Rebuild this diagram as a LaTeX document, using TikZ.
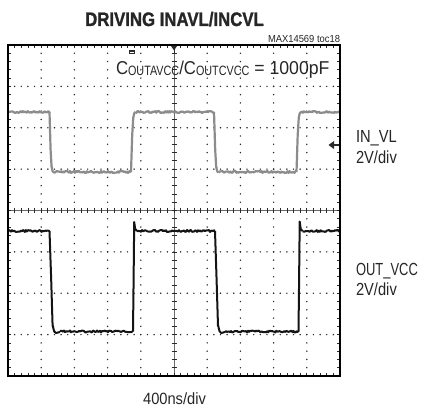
\documentclass[tikz,border=0pt]{standalone}
\usepackage{fontspec}
\setmainfont{Liberation Sans}
\newfontfamily\heavyfont[FakeBold=1.3]{Liberation Sans}
\definecolor{gridc}{HTML}{2A2A2A}
\definecolor{trgray}{HTML}{8C8C8C}
\definecolor{trblack}{HTML}{141414}
\newcommand{\fs}[1]{\fontsize{#1}{#1}\selectfont}
\begin{document}
\begin{tikzpicture}[x=1pt,y=-1pt,
  lbl/.style={inner sep=0pt, outer sep=0pt, text=black!85},
  dotm/.style={fill=gridc},
  tick/.style={draw=gridc, line width=0.7pt},
  graytr/.style={draw=trgray, line width=2.2pt, line join=round},
  blacktr/.style={draw=trblack, line width=2.0pt, line join=round}]
\useasboundingbox (0,0) rectangle (426,409);
\fill[white] (0,0) rectangle (426,409);
\pgfmathsetseed{11}
% ---------- grid dots ----------
\foreach \k in {1,2,3,5,6,7}{
  \foreach \i in {1,...,49}{
    \fill[dotm] ({8+\i*6.64},{45+\k*41.375}) circle (0.8);
  }
}
\foreach \c in {1,2,3,4,6,7,8,9}{
  \foreach \j in {1,...,39}{
    \fill[dotm] ({8+\c*33.2},{45+\j*8.275}) circle (0.8);
  }
}
% ---------- center axes ----------
\draw[draw=gridc!70, line width=0.6pt] (8,210.5) -- (340,210.5);
\draw[draw=gridc!70, line width=0.6pt] (174,45) -- (174,376);
\foreach \i in {1,...,49}{
  \draw[tick] ({8+\i*6.64},208) -- ++(0,5);
  \draw[tick] ({8+\i*6.64},45) -- ++(0,3);
  \draw[tick] ({8+\i*6.64},376) -- ++(0,-3);
}
\foreach \j in {1,...,39}{
  \draw[tick] (171.5,{45+\j*8.275}) -- ++(5,0);
  \draw[tick] (8,{45+\j*8.275}) -- ++(3,0);
  \draw[tick] (340,{45+\j*8.275}) -- ++(-3,0);
}
% ---------- IN_VL trace (gray) ----------
\draw[graytr] plot[domain=9:49.5, samples=42] (\x,{112+1.0*rand});
\draw[graytr] (49.5,112) -- (50.6,150) -- (51.6,167) to[out=80,in=180] (54,172.5);
\draw[graytr] plot[domain=54:131, samples=78] (\x,{172+1.0*rand});
\draw[graytr] (131,172) -- (132.2,135) -- (133.3,117) to[out=-80,in=180] (135.5,112);
\draw[graytr] plot[domain=135.5:214, samples=80] (\x,{112+1.0*rand});
\draw[graytr] (214,112) -- (215.2,150) -- (216.2,167) to[out=80,in=180] (218.5,172.5);
\draw[graytr] plot[domain=218.5:296.5, samples=79] (\x,{172+1.0*rand});
\draw[graytr] (296.5,172) -- (297.7,135) -- (298.8,117) to[out=-80,in=180] (301,112);
\draw[graytr] plot[domain=301:339, samples=39] (\x,{112+1.0*rand});
% ---------- OUT_VCC trace (black) ----------
\draw[blacktr] plot[domain=9:49.5, samples=42] (\x,{231+1.0*rand});
\draw[blacktr] (49.5,231) -- (51.2,280) -- (52.6,326) to[out=80,in=180] (56,333) -- (60,332);
\draw[blacktr] plot[domain=60:133, samples=74] (\x,{331.5+1.0*rand});
\draw[blacktr] (133,331.5) -- (133.6,280) -- (134.2,222) -- (135.2,229) -- (137,231);
\draw[blacktr] plot[domain=137:215, samples=79] (\x,{231+1.0*rand});
\draw[blacktr] (215,231) -- (216.6,280) -- (218,326) to[out=80,in=180] (221.4,333) -- (225,332);
\draw[blacktr] plot[domain=225:298.5, samples=74] (\x,{331.5+1.0*rand});
\draw[blacktr] (298.5,331.5) -- (299.1,280) -- (299.7,221.5) -- (300.7,229) -- (302.5,231);
\draw[blacktr] plot[domain=302.5:339, samples=37] (\x,{231+1.0*rand});
% ---------- border ----------
\draw[draw=black, line width=2pt] (8,45) rectangle (340,376);
% ---------- markers ----------
\fill[gridc] (171,46) -- (177,46) -- (174,50.5) -- cycle;
\draw[gridc, line width=0.9pt] (174,49) -- (174,53.5);
\draw[gridc, line width=0.9pt] (171.8,53.5) -- (176.2,53.5);
\fill[gridc] (129,50) rectangle (134.5,54);
\draw[white, line width=0.5pt] (129.6,52) -- (133.9,52);
\fill[gridc] (334,141) -- (334,149) -- (328.5,145) -- cycle;
\draw[gridc, line width=1.2pt] (333,145) -- (339,145);
% ---------- texts ----------
\node[lbl, anchor=base] (title) at (174.5,26)
  {\scalebox{0.86}[1]{\fs{19.5}\heavyfont\bfseries DRIVING INAVL/INCVL}};
\node[lbl, anchor=base east] (toc) at (340,42.3)
  {\scalebox{0.92}[1]{\fs{10.2}MAX14569 toc18}};
\node[lbl, anchor=base west] (cap) at (116,75)
  {\fs{18.6}\scalebox{0.9}[1]{C}\raisebox{-0.8pt}{\scalebox{0.8}[1]{\fs{13.5}OUTAVCC}}\scalebox{0.9}[1]{/C}\raisebox{-0.8pt}{\scalebox{0.8}[1]{\fs{13.5}OUTCVCC}}\scalebox{0.95}[1]{ = 1000pF}};
\node[lbl, anchor=base west] (invl) at (356,142.5)
  {\scalebox{0.84}[1]{\fs{17.5}IN\_VL}};
\node[lbl, anchor=base west] (invldiv) at (356,163.5)
  {\scalebox{0.84}[1]{\fs{17.5}2V/div}};
\node[lbl, anchor=base west] (outvcc) at (356,275.5)
  {\scalebox{0.74}[1]{\fs{17.5}OUT\_VCC}};
\node[lbl, anchor=base west] (outdiv) at (356,295)
  {\scalebox{0.84}[1]{\fs{17.5}2V/div}};
\node[lbl, anchor=base] (tdiv) at (174.5,404.3)
  {\scalebox{0.9}[1]{\fs{16.3}400ns/div}};
\end{tikzpicture}
\end{document}
